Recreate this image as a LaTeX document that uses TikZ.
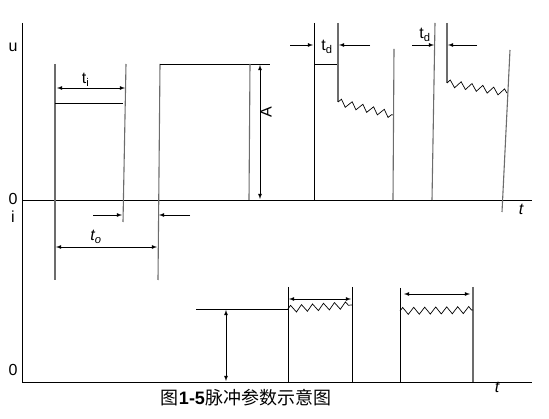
\documentclass[tikz,border=0pt]{standalone}
\usepackage{fontspec}
\setmainfont{Liberation Sans}
\newfontfamily\cjk{Noto Sans CJK SC}
\usetikzlibrary{decorations.pathmorphing}
\begin{document}
\begin{tikzpicture}[x=1pt,y=-1pt,
    edge/.style={gray!85!black, line width=1.1pt},
    noise/.style={decorate, decoration={zigzag, segment length=11pt, amplitude=3.5pt}, line width=.7pt},
    font=\fontsize{16}{18}\selectfont]
    \useasboundingbox (0,0) rectangle (549,419);
    \coordinate (Origin)    at (22,200);
    \coordinate (XAxisMax)  at (532,200);
    \coordinate (YAxisMax)  at (22,23);
    \coordinate (YAxisMin)  at (22,383);
    \coordinate (IOrigin)   at (22,382);
    \coordinate (IAxisMax)  at (532,382);
    \draw [line width=.8pt] (YAxisMax) -- (YAxisMin);% Draw y axis
    \draw [line width=.8pt] (Origin) -- (XAxisMax);% Draw u time axis
    \draw [line width=.8pt] (IOrigin) -- (IAxisMax);% Draw i time axis
    \node (u)     at (13,47)  {u};
    \node (zero)  at (13,199) {0};
    \node (i)     at (13,217) {i};
    \node (izero) at (13,370) {0};
    \node (tu)    at (521,209) {\itshape t};
    \node (ti)    at (497,387) {\itshape t};
    % first pulse
    \coordinate (P1a) at (55,64);   \coordinate (P1b) at (55,280);
    \coordinate (P1c) at (126,64);  \coordinate (P1d) at (123,222);
    \draw [edge] (P1a) -- (P1b);
    \draw [edge] (P1c) -- (P1d);
    \draw [line width=.8pt] (55,103) -- (123,103);
    \draw [line width=.8pt,latex-latex] (57,88) -- (125,88) node[pos=0.42,above=-2pt] (tion) {t\textsubscript{i}};
    % second pulse
    \coordinate (P2a) at (160,64);  \coordinate (P2b) at (158,280);
    \coordinate (P2c) at (250,64);  \coordinate (P2d) at (249,200);
    \draw [edge] (P2a) -- (P2b);
    \draw [line width=.8pt] (P2a) -- (270,64);
    \draw [edge] (P2c) -- (P2d);
    \draw [line width=.8pt,latex-latex] (260,65) -- (260,199);
    \node [rotate=90] (amp) at (266,112) {A};
    % pulse interval
    \draw [line width=.8pt,-latex] (93,215) -- (122,215);
    \draw [line width=.8pt,-latex] (190,215) -- (159,215);
    \draw [line width=.8pt,latex-latex] (56,247) -- (157,247);
    \node (toff) at (96,237) {\itshape t\textsubscript{o}};
    % third pulse
    \coordinate (P3a) at (314,23);  \coordinate (P3b) at (314,200);
    \coordinate (P3c) at (338,23);  \coordinate (P3d) at (338,102);
    \coordinate (P3e) at (393,115); \coordinate (P3f) at (394,49);
    \coordinate (P3g) at (393,200);
    \draw [line width=.8pt] (P3a) -- (P3b);
    \draw [line width=.8pt] (314,64) -- (338,64);
    \draw [edge] (P3c) -- (P3d);
    \draw [noise] (P3d) -- (P3e);
    \draw [edge] (P3f) -- (P3g);
    \draw [line width=.8pt,-latex] (290,45) -- (313,45);
    \draw [line width=.8pt,-latex] (370,45) -- (339,45);
    \node (tdl) at (327,47) {t\textsubscript{d}};
    % fourth pulse
    \coordinate (P4a) at (432,200); \coordinate (P4b) at (435,23);
    \coordinate (P4c) at (447,23);  \coordinate (P4d) at (447,83);
    \coordinate (P4e) at (508,93);  \coordinate (P4f) at (510,50);
    \coordinate (P4g) at (502,212);
    \draw [edge] (P4a) -- (P4b);
    \draw [edge] (P4c) -- (P4d);
    \draw [noise] (P4d) -- (P4e);
    \draw [edge] (P4f) -- (P4g);
    \draw [line width=.8pt,-latex] (412,45) -- (434,45);
    \draw [line width=.8pt,-latex] (477,45) -- (448,45);
    \node (tdr) at (425,35) {t\textsubscript{d}};
    % current pulses
    \draw [line width=.8pt] (196,309) -- (288,309);
    \draw [line width=.8pt,latex-latex] (226,310) -- (226,381);
    \coordinate (I1a) at (288,287); \coordinate (I1b) at (288,382);
    \coordinate (I1c) at (352,287); \coordinate (I1d) at (352,382);
    \draw [line width=.8pt] (I1a) -- (I1b);
    \draw [line width=.8pt] (I1c) -- (I1d);
    \draw [noise] (288,309) -- (352,305);
    \draw [line width=.8pt,latex-latex] (289,299) -- (351,299);
    \coordinate (I2a) at (400,288); \coordinate (I2b) at (400,382);
    \coordinate (I2c) at (473,287); \coordinate (I2d) at (473,382);
    \draw [line width=.8pt] (I2a) -- (I2b);
    \draw [edge] (I2c) -- (I2d);
    \draw [noise] (400,311) -- (473,310);
    \draw [line width=.8pt,latex-latex] (404,294) -- (470,294);
    \node (caption) at (246,398) {\fontsize{18}{20}\selectfont{\cjk 图}{\bfseries 1-5}{\cjk 脉冲参数示意图}};
\end{tikzpicture}
\end{document}
